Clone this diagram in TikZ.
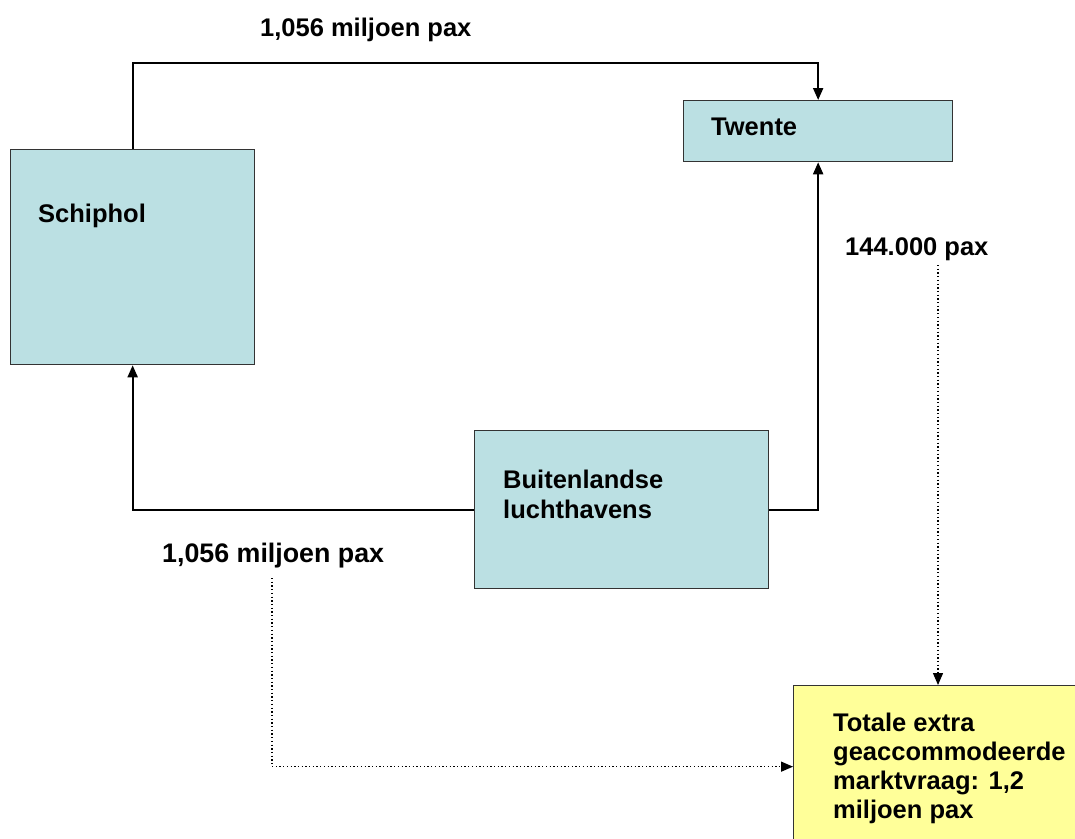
\documentclass[tikz,border=0pt]{standalone}
\usepackage{fontspec}
\setmainfont{Liberation Sans}
\usetikzlibrary{arrows.meta}
\definecolor{boxblue}{HTML}{BBE0E3}
\definecolor{boxyellow}{HTML}{FFFF99}
\begin{document}
\begin{tikzpicture}[x=1pt,y=1pt,
  box/.style={draw=black!80,line width=1.3pt,inner sep=0pt,anchor=north west},
  lbl/.style={anchor=base west,inner sep=0pt,font=\fontsize{25.5}{30}\selectfont\bfseries,align=left},
  conn/.style={line width=2pt,-{Triangle[length=12pt,width=10pt]}},
  dotconn/.style={line width=1.3pt,dash pattern=on 1.3pt off 2.4pt,-{Triangle[length=12pt,width=10pt]}}]
\clip (0,0) rectangle (1075,-838);
\fill[white] (0,0) rectangle (1075,-838);
% boxes
\node[box,fill=boxblue,minimum width=244pt,minimum height=215pt] (schiphol) at (10,-149) {};
\node[box,fill=boxblue,minimum width=269pt,minimum height=61pt] (twente) at (683,-100) {};
\node[box,fill=boxblue,minimum width=294pt,minimum height=158pt] (buit) at (474,-430) {};
\node[box,fill=boxyellow,minimum width=300pt,minimum height=162pt] (totale) at (793,-685) {};
% texts
\node[lbl] (tschiphol) at (38,-222) {Schiphol};
\node[lbl] (ttwente) at (711,-135) {Twente};
\node[lbl] (tbuit1) at (503,-488) {Buitenlandse};
\node[lbl] (tbuit2) at (503,-518) {luchthavens};
\node[lbl] (ttot1) at (833,-731) {Totale extra};
\node[lbl] (ttot2) at (833,-760) {geaccommodeerde};
\node[lbl] (ttot3) at (833,-789) {marktvraag: 1,2};
\node[lbl] (ttot4) at (833,-818) {miljoen pax};
\node[lbl] (ltop) at (260,-36) {1,056 miljoen pax};
\node[lbl] (ltw) at (845,-255) {144.000 pax};
\node[lbl,font=\fontsize{26.8}{30}\selectfont\bfseries] (lbot) at (162,-562) {1,056 miljoen pax};
% connectors
\coordinate (topline) at (0,-63);
\draw[conn] (schiphol.north) -- (schiphol.north |- topline) -| (twente.north);
\draw[conn] (buit.west) -| (schiphol.south);
\draw[conn] (buit.east) -| (twente.south);
\coordinate (d1) at (938,-265);
\draw[dotconn] (d1) -- (d1 |- totale.north);
\coordinate (d2) at (272,-578);
\draw[dotconn] (d2) |- (totale.west);
\end{tikzpicture}
\end{document}
